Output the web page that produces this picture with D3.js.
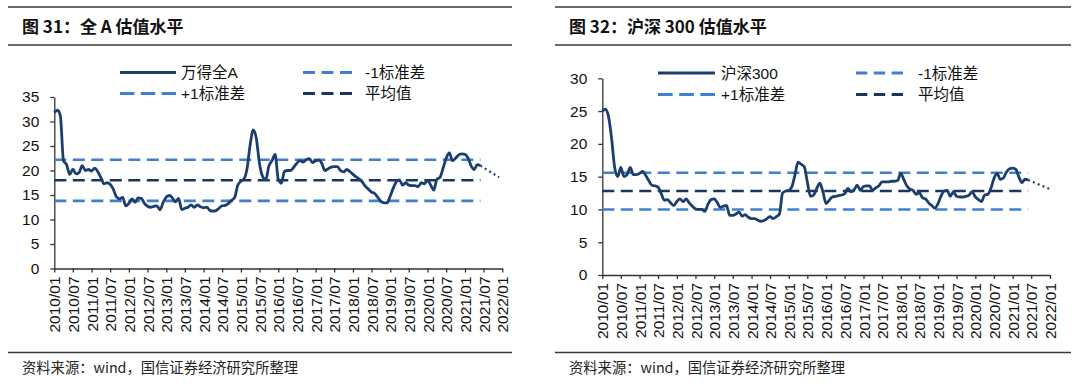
<!DOCTYPE html>
<html>
<head>
<meta charset="utf-8">
<script src="https://cdn.jsdelivr.net/npm/d3@7"></script>
<style>
  body { margin: 0; background: #fff; }
  text { font-family: "Liberation Sans", Arial, "Noto Sans CJK SC", sans-serif; }
</style>
</head>
<body>
<div id="chart"></div>
<script>
// monthly values from 2010/01
const allAValues = [31.8, 32.3, 31.2, 22.0, 21.2, 19.2, 20.3, 19.3, 19.6, 21.0, 20.0, 20.2, 19.9, 20.5, 19.8, 18.6,
  17.3, 17.5, 17.2, 16.2, 14.6, 14.2, 14.5, 12.8, 13.3, 14.2, 13.5, 14.4, 14.3, 13.3, 12.7, 12.5,
  12.7, 12.8, 12.0, 13.5, 14.6, 14.9, 14.4, 13.6, 14.3, 12.0, 12.3, 12.5, 13.0, 12.5, 13.0, 12.6,
  12.4, 12.5, 11.9, 11.7, 11.8, 12.3, 12.8, 12.9, 13.3, 13.9, 14.5, 17.0, 17.8, 18.3, 20.3, 25.2,
  28.3, 26.5, 21.5, 18.8, 18.1, 20.9, 22.0, 23.3, 18.2, 17.4, 19.8, 20.0, 20.0, 20.7, 21.5, 22.0,
  21.7, 22.2, 22.4, 21.6, 22.0, 22.1, 21.5, 20.0, 20.3, 20.7, 20.8, 20.8, 20.0, 19.7, 20.2, 19.8,
  19.2, 18.7, 18.3, 17.7, 16.8, 16.2, 15.6, 15.3, 14.5, 13.7, 13.4, 13.4, 14.8, 16.5, 17.7, 18.1,
  17.0, 17.5, 17.0, 16.9, 16.9, 16.7, 17.5, 17.3, 18.0, 17.0, 16.0, 18.2, 18.6, 20.5, 22.5, 23.6,
  22.0, 22.5, 23.2, 23.4, 23.3, 22.5, 21.0, 20.2, 21.2, 21.0];
const hs300Values = [25.0, 25.3, 24.3, 21.0, 16.5, 15.0, 16.4, 15.0, 15.3, 16.4, 15.3, 15.3, 15.5, 15.8, 15.2, 14.4,
  13.7, 13.6, 13.4, 12.4, 11.4, 11.5, 11.0, 10.6, 11.2, 11.6, 11.2, 11.6, 11.0, 10.5, 10.1, 10.0,
  10.0, 9.7, 10.8, 11.5, 11.6, 11.0, 10.3, 10.5, 10.6, 9.1, 9.1, 9.3, 9.6, 9.0, 9.2, 8.8,
  8.6, 8.6, 8.4, 8.2, 8.3, 8.6, 8.9, 8.6, 8.9, 9.3, 12.5, 12.8, 12.9, 13.5, 15.2, 17.2,
  16.9, 16.5, 14.2, 12.0, 12.2, 13.2, 14.0, 12.7, 10.9, 11.4, 11.9, 12.0, 12.1, 12.2, 12.4, 13.2,
  12.7, 13.0, 13.7, 12.9, 13.5, 13.6, 13.6, 12.9, 13.3, 13.6, 14.2, 14.2, 14.2, 14.3, 14.3, 14.4,
  15.5, 14.5, 13.6, 13.1, 12.9, 12.3, 12.6, 11.8, 11.6, 11.0, 10.6, 10.2, 10.9, 12.1, 12.8, 12.9,
  12.0, 12.7, 12.0, 11.9, 11.9, 12.0, 12.2, 12.7, 11.9, 11.5, 11.2, 12.2, 12.3, 13.2, 14.7, 15.5,
  14.6, 14.8, 15.7, 16.2, 16.3, 16.1, 15.0, 14.1, 14.6, 14.5];

// dotted extension after the last month
const allAProjDates = ["2021/06", "2021/12"];
const allAProjValues = [21.0, 18.6];
const hs300ProjDates = ["2021/06", "2022/01"];
const hs300ProjValues = [14.5, 13.1];

// mean and +/-1 std bands
const allABands = [22.2, 18.0, 13.8];   // +1, mean, -1
const hs300Bands = [15.6, 12.8, 10.0];

const allATicks = [0, 5, 10, 15, 20, 25, 30, 35];
const hs300Ticks = [0, 5, 10, 15, 20, 25, 30];

const titles = ["图 31：全 A 估值水平", "图 32：沪深 300 估值水平"];
const seriesNames = ["万得全A", "沪深300"];
const legendNames = ["-1标准差", "+1标准差", "平均值"];
const sourceText = "资料来源：wind，国信证券经济研究所整理";

const parseMonth = d3.timeParse("%Y/%m");
const startMonth = parseMonth("2010/01");
const endMonth = parseMonth("2022/01");

const navy = "#1c3e6e";
const meanColor = "#1a3560";
const bandColor = "#3f7fcf";

const svg = d3.select("#chart")
  .append("svg")
  .attr("width", 1080)
  .attr("height", 389);

function drawPanel(p) {
  const g = svg.append("g");

  // header and footer rules
  [7, 45, 352.5].forEach(y => {
    g.append("line")
      .attr("x1", p.left).attr("x2", p.right)
      .attr("y1", y).attr("y2", y)
      .attr("stroke", "#3a3a3a")
      .attr("stroke-width", 1.5);
  });

  g.append("text")
    .attr("x", p.left + 14)
    .attr("y", 33)
    .style("font-family", "'Noto Sans CJK SC', sans-serif")
    .style("font-weight", "bold")
    .style("font-size", "17px")
    .attr("fill", "#111")
    .text(p.title);

  g.append("text")
    .attr("x", p.left + 14)
    .attr("y", 373)
    .style("font-family", "'Noto Sans CJK SC', sans-serif")
    .style("font-size", "14.3px")
    .attr("fill", "#222")
    .text(sourceText);

  const xScale = d3.scaleTime()
    .domain([startMonth, endMonth])
    .range([p.x0, p.x1]);

  const yScale = d3.scaleLinear()
    .domain([0, d3.max(p.ticks)])
    .range([p.y0, p.y1]);

  const data = p.values.map((v, i) => ({ date: d3.timeMonth.offset(startMonth, i), value: v }));
  const lastDate = data[data.length - 1].date;

  // x axis
  const xAxis = d3.axisBottom(xScale)
    .tickValues(d3.range(25).map(i => d3.timeMonth.offset(startMonth, i * 6)))
    .tickFormat(d3.timeFormat("%Y/%m"))
    .tickSize(4)
    .tickSizeOuter(0);

  const xg = g.append("g")
    .attr("transform", `translate(0, ${p.y0})`)
    .call(xAxis);
  xg.selectAll("text")
    .attr("x", -8)
    .attr("y", 0)
    .attr("dy", "0.36em")
    .attr("transform", "rotate(-90)")
    .style("text-anchor", "end")
    .style("font-size", "15.5px")
    .attr("fill", "#111");

  // y axis
  const yAxis = d3.axisLeft(yScale)
    .tickValues(p.ticks)
    .tickSize(4)
    .tickSizeOuter(0)
    .tickPadding(11);
  const yg = g.append("g")
    .attr("transform", `translate(${p.x0}, 0)`)
    .call(yAxis);
  yg.selectAll("text")
    .style("font-size", "15.5px")
    .attr("fill", "#111");

  [xg, yg].forEach(a => {
    a.select(".domain").attr("stroke", "#333").attr("stroke-width", 1.3);
    a.selectAll(".tick line").attr("stroke", "#333").attr("stroke-width", 1.3);
  });

  // bands
  p.bands.forEach((b, i) => {
    g.append("line")
      .attr("x1", xScale(startMonth))
      .attr("x2", xScale(lastDate))
      .attr("y1", yScale(b)).attr("y2", yScale(b))
      .attr("stroke", i === 1 ? meanColor : bandColor)
      .attr("stroke-width", 2.6)
      .attr("stroke-dasharray", "12,6.5");
  });

  const line = d3.line()
    .x(d => xScale(d.date))
    .y(d => yScale(d.value))
    .curve(d3.curveMonotoneX);

  g.append("path")
    .datum(data)
    .attr("fill", "none")
    .attr("stroke", navy)
    .attr("stroke-width", 2.8)
    .attr("stroke-linejoin", "round")
    .attr("d", line);

  const proj = p.projDates.map((d, i) => ({ date: parseMonth(d), value: p.projValues[i] }));
  g.append("path")
    .datum(proj)
    .attr("fill", "none")
    .attr("stroke", navy)
    .attr("stroke-width", 2.2)
    .attr("stroke-dasharray", "2,3.2")
    .attr("d", d3.line().x(d => xScale(d.date)).y(d => yScale(d.value)));

  // legend
  const items = [
    { col: 0, row: 0, name: p.name, color: navy, dash: null },
    { col: 1, row: 0, name: legendNames[0], color: bandColor, dash: true },
    { col: 0, row: 1, name: legendNames[1], color: bandColor, dash: true },
    { col: 1, row: 1, name: legendNames[2], color: meanColor, dash: true }
  ];
  items.forEach(it => {
    const c = p.legendCols[it.col];
    const y = p.legendRows[it.row];
    const len = c.x2 - c.x1;
    const dash = (len - 2 * 6.5) / 3;
    g.append("line")
      .attr("x1", c.x1).attr("x2", c.x2)
      .attr("y1", y).attr("y2", y)
      .attr("stroke", it.color)
      .attr("stroke-width", 2.8)
      .attr("stroke-dasharray", it.dash ? `${dash},6.5` : null);
    g.append("text")
      .attr("x", c.tx)
      .attr("y", y)
      .attr("dy", "0.36em")
      .style("font-size", "15.5px")
      .attr("fill", "#111")
      .text(it.name);
  });
}

drawPanel({
  left: 8, right: 512,
  title: titles[0], name: seriesNames[0],
  values: allAValues, projDates: allAProjDates, projValues: allAProjValues,
  bands: allABands, ticks: allATicks,
  x0: 54.3, x1: 502.3, y0: 268.5, y1: 97,
  legendCols: [{ x1: 120, x2: 176, tx: 181 }, { x1: 303, x2: 352, tx: 365 }],
  legendRows: [72.5, 93.5]
});

drawPanel({
  left: 555, right: 1071,
  title: titles[1], name: seriesNames[1],
  values: hs300Values, projDates: hs300ProjDates, projValues: hs300ProjValues,
  bands: hs300Bands, ticks: hs300Ticks,
  x0: 602.3, x1: 1050, y0: 275, y1: 78.3,
  legendCols: [{ x1: 658, x2: 715, tx: 721 }, { x1: 856, x2: 903, tx: 918 }],
  legendRows: [73, 94.5]
});
</script>
</body>
</html>
